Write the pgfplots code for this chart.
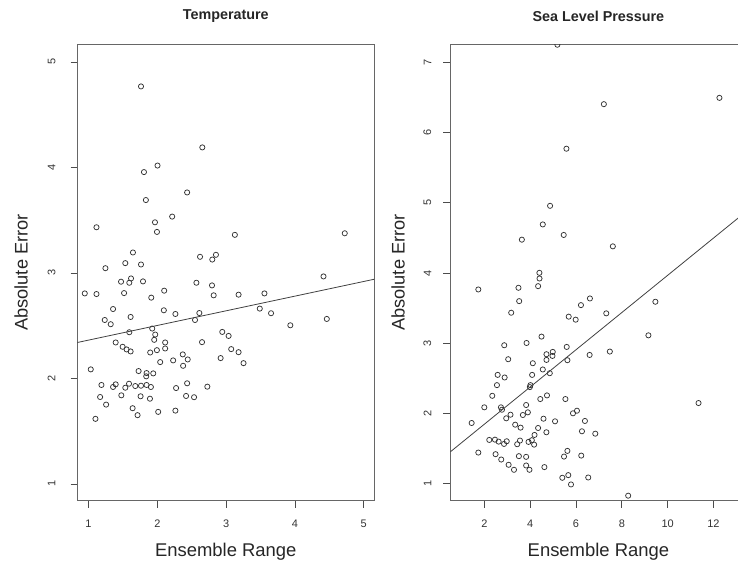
\documentclass[border=0pt]{standalone}
\usepackage{pgfplots}
\pgfplotsset{compat=1.18}
\usepackage{fontspec}
\setmainfont{Liberation Sans}
\begin{document}
\pgfplotsset{
  rpanel/.style={
    scale only axis,
    height=458pt,
    axis line style={black!60, line width=0.8pt},
    tick style={black!70, line width=0.8pt},
    tick align=outside,
    tick pos=left,
    major tick length=7pt,
    clip marker paths=true,
    /pgf/number format/assume math mode=true,
    ticklabel style={font=\fontsize{11}{13}\selectfont, text=black!80},
    yticklabel style={xshift=-12pt, rotate=90, anchor=south, inner sep=0pt},
    xticklabel style={anchor=base, inner sep=0pt, yshift=-19.5pt},
    title style={at={(0.5,1)}, anchor=center, yshift=22pt, font=\fontsize{14.4}{16}\selectfont\bfseries, text=black!85},
    xlabel style={at={(0.5,0)}, anchor=base, yshift=-56pt, font=\fontsize{18.5}{21}\selectfont, text=black!85},
    ylabel style={at={(0,0.5)}, anchor=center, font=\fontsize{18.3}{21}\selectfont, text=black!85},
  },
  pts/.style={only marks, mark=o, mark size=2.6pt, draw=black!80, mark options={line width=0.75pt}},
}
\begin{tikzpicture}
\path[use as bounding box] (0pt,0pt) rectangle (738pt,564pt);
\clip (0pt,0pt) rectangle (738pt,564pt);
% Left panel
\begin{axis}[rpanel,
  at={(75pt,61.5pt)}, anchor=south west,
  width=297.7pt,
  xmin=0.84, xmax=5.15, ymin=0.842, ymax=5.167,
  xtick={1,2,3,4,5}, ytick={1,2,3,4,5},
  yticklabel style={yshift=3pt},
  title={Temperature},
  xlabel={Ensemble Range},
  ylabel={Absolute Error},
  ylabel style={yshift=56.5pt},
]
\addplot[pts] coordinates {
(1.763,4.768) (2.654,4.190) (2.003,4.018) (1.806,3.956) (2.433,3.763)
(1.834,3.691) (2.216,3.534) (1.116,3.433) (1.966,3.480) (1.995,3.389)
(3.127,3.361) (4.724,3.376) (1.646,3.194) (1.535,3.093) (1.763,3.080)
(1.246,3.045) (2.621,3.153) (2.799,3.127) (2.852,3.172) (4.415,2.967)
(1.473,2.917) (1.618,2.948) (1.593,2.907) (1.792,2.920) (2.568,2.907)
(2.795,2.882) (0.946,2.806) (1.116,2.800) (1.517,2.809) (2.100,2.832)
(2.819,2.788) (3.181,2.794) (3.557,2.806) (1.912,2.766) (1.357,2.658)
(2.095,2.646) (2.263,2.611) (1.612,2.583) (2.611,2.620) (2.548,2.554)
(3.489,2.662) (3.653,2.618) (3.933,2.504) (4.463,2.564) (1.236,2.554)
(1.323,2.514) (1.593,2.438) (1.926,2.473) (1.970,2.416) (1.955,2.366)
(2.944,2.441) (3.036,2.403) (1.395,2.341) (1.496,2.300) (1.554,2.275)
(1.612,2.256) (2.114,2.341) (2.114,2.284) (1.994,2.268) (1.897,2.246)
(2.650,2.344) (3.074,2.278) (3.181,2.249) (2.920,2.193) (3.253,2.145)
(2.370,2.228) (2.442,2.180) (2.375,2.120) (2.230,2.171) (2.042,2.155)
(1.033,2.086) (1.728,2.070) (1.844,2.051) (1.941,2.048) (1.839,2.020)
(1.188,1.938) (1.395,1.944) (1.357,1.919) (1.535,1.912) (1.589,1.950)
(1.680,1.928) (1.763,1.931) (1.844,1.938) (1.907,1.919) (2.273,1.909)
(2.433,1.954) (2.727,1.922) (1.169,1.824) (1.477,1.840) (1.757,1.831)
(1.893,1.808) (2.418,1.834) (2.534,1.822) (1.256,1.752) (1.641,1.718)
(1.713,1.652) (2.013,1.683) (2.263,1.695) (1.101,1.617)
};
\addplot[black!75, line width=0.8pt] coordinates {(0.84,2.341) (5.15,2.940)};
\end{axis}
% Right panel
\begin{axis}[rpanel,
  at={(449.3pt,61.5pt)}, anchor=south west,
  width=297.2pt,
  xmin=0.52, xmax=13.44, ymin=0.76, ymax=7.256,
  xtick={2,4,6,8,10,12}, ytick={1,2,3,4,5,6,7},
  title={Sea Level Pressure},
  xlabel={Ensemble Range},
  ylabel={Absolute Error},
  ylabel style={yshift=52.5pt},
]
\addplot[pts] coordinates {
(5.19,7.25) (7.217,6.404) (12.26,6.494) (5.583,5.770) (4.870,4.957)
(4.552,4.692) (3.639,4.475) (5.465,4.542) (7.609,4.380) (4.404,4.003)
(4.409,3.922) (4.348,3.813) (1.739,3.766) (3.491,3.790) (3.522,3.600)
(3.174,3.435) (6.609,3.638) (6.217,3.543) (9.465,3.591) (5.683,3.379)
(5.987,3.336) (7.322,3.426) (9.161,3.113) (4.496,3.095) (2.870,2.972)
(3.843,3.004) (5.596,2.948) (7.478,2.882) (6.596,2.834) (4.713,2.844)
(4.987,2.877) (4.974,2.820) (4.713,2.763) (5.626,2.759) (3.043,2.773)
(4.117,2.716) (4.552,2.627) (4.857,2.574) (4.087,2.550) (2.583,2.550)
(2.887,2.513) (2.552,2.404) (4.013,2.404) (3.987,2.376) (2.348,2.252)
(4.735,2.258) (4.443,2.206) (5.539,2.206) (11.348,2.149) (2.000,2.088)
(2.726,2.088) (2.770,2.054) (3.826,2.121) (3.900,2.017) (3.683,1.979)
(3.143,1.983) (2.957,1.932) (6.043,2.040) (5.870,2.003) (4.583,1.926)
(5.087,1.889) (6.391,1.894) (1.448,1.865) (3.348,1.841) (3.583,1.799)
(4.348,1.794) (4.709,1.733) (6.261,1.747) (6.843,1.713) (4.191,1.695)
(2.217,1.624) (2.465,1.628) (2.626,1.600) (2.978,1.605) (2.861,1.567)
(3.557,1.615) (3.930,1.596) (4.074,1.620) (4.174,1.557) (3.435,1.563)
(1.739,1.444) (2.491,1.421) (2.739,1.345) (3.509,1.393) (3.826,1.383)
(5.626,1.468) (5.478,1.387) (6.230,1.401) (3.061,1.270) (3.296,1.199)
(3.826,1.260) (3.970,1.199) (4.622,1.237) (5.404,1.085) (5.665,1.123)
(5.783,0.990) (6.535,1.089) (8.278,0.830)
};
\addplot[black!75, line width=0.8pt] coordinates {(0.52,1.455) (13.44,4.879)};
\end{axis}
\end{tikzpicture}
\end{document}
